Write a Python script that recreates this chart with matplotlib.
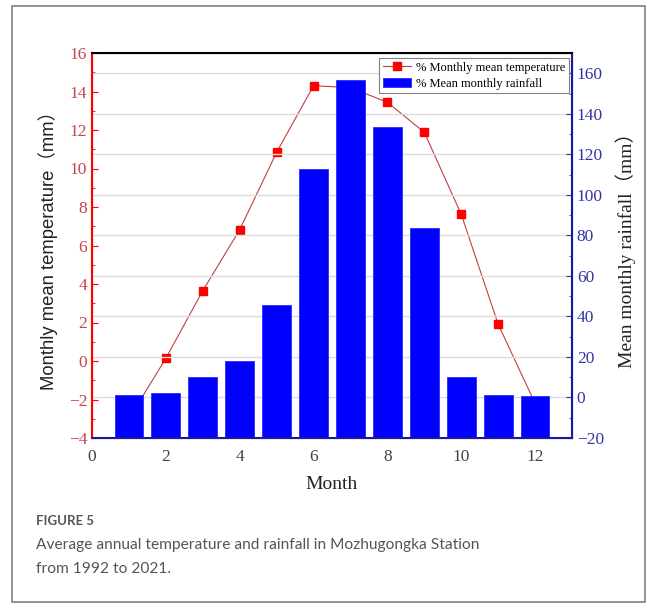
import matplotlib
matplotlib.use("Agg")
from matplotlib import pyplot as plt
from matplotlib.patches import Rectangle
from matplotlib.ticker import MultipleLocator

# data
months = [1, 2, 3, 4, 5, 6, 7, 8, 9, 10, 11, 12]
temperature = [-3.0, 0.14, 3.65, 6.82, 10.84, 14.3, 14.2, 13.44, 11.88, 7.62, 1.91, -2.2]
rainfall = [1.2, 2.4, 10.3, 18.2, 45.5, 112.8, 156.9, 133.3, 83.7, 10.3, 1.4, 0.7]

serif = ["Liberation Serif", "Noto Sans CJK SC"]
sans = ["Liberation Sans", "Noto Sans CJK SC"]
left_col = "#c04848"
right_col = "#3434a8"

fig = plt.figure(figsize=(6.56, 6.12), dpi=100)

# outer frame of the figure panel
fig.patches.append(Rectangle((12 / 656, 1 - 602 / 612), 633 / 656, 596 / 612,
                             transform=fig.transFigure, fill=False,
                             edgecolor="#808080", linewidth=1.2))

ax = fig.add_axes([92 / 656, 1 - 438 / 612, 480 / 656, 385 / 612])
ax2 = ax.twinx()

ax.set_xlim(0, 13)
ax.set_ylim(-4, 16)
ax2.set_ylim(-20, 170)

# temperature line (left axis), drawn below the bars
ax.plot(months, temperature, color="#c04040", linewidth=0.8, marker="s",
        markersize=6, markerfacecolor="red", markeredgecolor="red",
        label="% Monthly mean temperature")

# rainfall bars (right axis), rising from the bottom of the axis
base = ax2.get_ylim()[0]
ax2.bar(months, [r - base for r in rainfall], bottom=base, width=0.78,
        color="#0000ff", edgecolor="#2a2aff", linewidth=0.6,
        label="% Mean monthly rainfall")

ax.set_xticks([0, 2, 4, 6, 8, 10, 12])
ax.yaxis.set_major_locator(MultipleLocator(2))
ax.yaxis.set_minor_locator(MultipleLocator(1))
ax2.yaxis.set_minor_locator(MultipleLocator(10))
ax2.set_yticks(range(-20, 161, 20))

ax2.set_axisbelow(True)
ax2.grid(axis="y", color="#dcdcdc", linewidth=1.0)

ax.tick_params(axis="y", which="major", direction="in", length=4, color="red",
               labelcolor=left_col, labelsize=12.5)
ax.tick_params(axis="y", which="minor", direction="in", length=2.5, color="red")
ax.tick_params(axis="x", length=0, labelsize=12.5, labelcolor="#444444", pad=8)
ax2.tick_params(axis="y", which="major", direction="in", length=4, color=right_col,
                labelcolor=right_col, labelsize=12.5)
ax2.tick_params(axis="y", which="minor", direction="in", length=2.5, color=right_col)

for a in (ax, ax2):
    for lab in a.get_xticklabels() + a.get_yticklabels():
        lab.set_family(serif)

ax2.spines["left"].set_color("red")
ax2.spines["left"].set_linewidth(1.5)
ax2.spines["right"].set_color("#1a1aa0")
ax2.spines["right"].set_linewidth(1.5)
ax2.spines["bottom"].set_color("#1a1aa0")
ax2.spines["bottom"].set_linewidth(1.5)
ax2.spines["top"].set_color("black")
ax2.spines["top"].set_linewidth(1.5)

ax.set_xlabel("Month", family=serif, fontsize=14, color="#222222", labelpad=8)
ax.set_ylabel("Monthly mean temperature（mm）", family=sans, fontsize=13.3,
              color="#222222", labelpad=8)
ax2.set_ylabel("Mean monthly rainfall（mm）", family=serif, fontsize=14,
               color="#222222", labelpad=8)

h1, l1 = ax.get_legend_handles_labels()
h2, l2 = ax2.get_legend_handles_labels()
leg = ax2.legend(h1 + h2, l1 + l2, loc="upper right", bbox_to_anchor=(0.993, 0.987),
                 borderaxespad=0, fancybox=False, framealpha=1, edgecolor="#808080",
                 prop={"family": serif, "size": 9}, handlelength=2.2,
                 handletextpad=0.4, borderpad=0.3, labelspacing=0.3)
leg.get_frame().set_linewidth(0.8)

# caption
fig.text(36 / 656, 1 - 521 / 612, "FIGURE 5", family="Lato", fontweight="bold",
         fontsize=9.5, color="#555555", va="center")
fig.text(36 / 656, 1 - 545 / 612,
         "Average annual temperature and rainfall in Mozhugongka Station",
         family="Lato", fontsize=11.2, color="#555555", va="center")
fig.text(36 / 656, 1 - 569 / 612, "from 1992 to 2021.",
         family="Lato", fontsize=11.2, color="#555555", va="center")

fig.savefig("out.png", dpi=100)
